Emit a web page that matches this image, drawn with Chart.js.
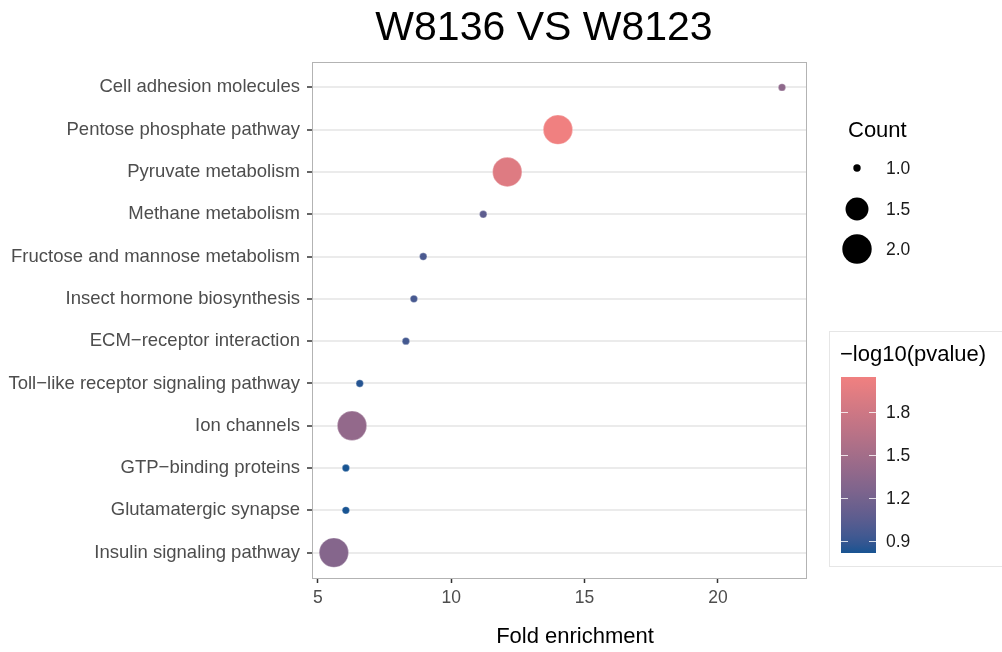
<!DOCTYPE html>
<html>
<head>
<meta charset="utf-8">
<script src="https://cdn.jsdelivr.net/npm/chart.js@4.4.1/dist/chart.umd.min.js"></script>
<style>
  body { margin: 0; background: #fff; }
</style>
</head>
<body>
<canvas id="canvas" width="1002" height="652"></canvas>
<script>
// pathways, top to bottom as shown
const pathways = [
  "Cell adhesion molecules",
  "Pentose phosphate pathway",
  "Pyruvate metabolism",
  "Methane metabolism",
  "Fructose and mannose metabolism",
  "Insect hormone biosynthesis",
  "ECM\u2212receptor interaction",
  "Toll\u2212like receptor signaling pathway",
  "Ion channels",
  "GTP\u2212binding proteins",
  "Glutamatergic synapse",
  "Insulin signaling pathway"
];
const foldEnrichment = [22.4, 14.0, 12.1, 11.2, 8.95, 8.6, 8.3, 6.57, 6.28, 6.05, 6.05, 5.6];
const counts = [1, 2, 2, 1, 1, 1, 1, 1, 2, 1, 1, 2];
const negLog10P = [1.36, 2.04, 1.91, 1.07, 0.98, 0.96, 0.95, 0.85, 1.39, 0.82, 0.82, 1.30];

const xTicks = [5, 10, 15, 20];
const countBreaks = [1.0, 1.5, 2.0];
const colorTicks = [0.9, 1.2, 1.5, 1.8];

const FONT = "'Liberation Sans', Arial, sans-serif";
const lowColor = [24, 84, 146];
const highColor = [240, 128, 128];
const pMin = Math.min(...negLog10P);
const pMax = Math.max(...negLog10P);
const cMin = Math.min(...counts);
const cMax = Math.max(...counts);
const rMin = 3.7, rMax = 14.7;

// gradient is mixed in CIE Lab, like ggplot does
function toLab(rgb) {
  const lin = rgb.map(v => { v /= 255; return v <= 0.04045 ? v / 12.92 : Math.pow((v + 0.055) / 1.055, 2.4); });
  let x = (lin[0] * 0.4124 + lin[1] * 0.3576 + lin[2] * 0.1805) / 0.95047;
  let y = (lin[0] * 0.2126 + lin[1] * 0.7152 + lin[2] * 0.0722);
  let z = (lin[0] * 0.0193 + lin[1] * 0.1192 + lin[2] * 0.9505) / 1.08883;
  const f = t => t > 0.008856 ? Math.cbrt(t) : 7.787 * t + 16 / 116;
  x = f(x); y = f(y); z = f(z);
  return [116 * y - 16, 500 * (x - y), 200 * (y - z)];
}
function fromLab(lab) {
  let y = (lab[0] + 16) / 116, x = lab[1] / 500 + y, z = y - lab[2] / 200;
  const g = t => t * t * t > 0.008856 ? t * t * t : (t - 16 / 116) / 7.787;
  x = g(x) * 0.95047; y = g(y); z = g(z) * 1.08883;
  const lin = [
    x * 3.2406 + y * -1.5372 + z * -0.4986,
    x * -0.9689 + y * 1.8758 + z * 0.0415,
    x * 0.0557 + y * -0.2040 + z * 1.0570
  ];
  return lin.map(v => {
    v = v <= 0.0031308 ? 12.92 * v : 1.055 * Math.pow(v, 1 / 2.4) - 0.055;
    return Math.max(0, Math.min(255, Math.round(v * 255)));
  });
}
const lowLab = toLab(lowColor), highLab = toLab(highColor);

function colorFor(v) {
  const t = (v - pMin) / (pMax - pMin);
  const c = fromLab(lowLab.map((l, i) => l + (highLab[i] - l) * t));
  return "rgb(" + c.join(",") + ")";
}
function radiusFor(c) {
  return rMin + (rMax - rMin) * Math.sqrt((c - cMin) / (cMax - cMin));
}

const n = pathways.length;
const points = pathways.map((p, i) => ({ x: foldEnrichment[i], y: n - i }));

const extras = {
  id: "extras",
  beforeDatasetsDraw(chart) {
    const ctx = chart.ctx;
    const a = chart.chartArea;
    ctx.save();
    ctx.strokeStyle = "#b3b3b3";
    ctx.lineWidth = 1;
    ctx.strokeRect(a.left + 0.5, a.top + 0.5, a.right - a.left, a.bottom - a.top);
    ctx.restore();
  },
  afterDraw(chart) {
    const ctx = chart.ctx;
    ctx.save();
    ctx.fillStyle = "#000";
    ctx.textAlign = "center";
    ctx.textBaseline = "middle";
    ctx.font = "41px " + FONT;
    ctx.fillText("W8136 VS W8123", 544, 29);
    ctx.font = "22px " + FONT;
    ctx.fillText("Fold enrichment", 575, 637);

    // size legend
    ctx.textAlign = "left";
    ctx.font = "22px " + FONT;
    ctx.fillText("Count", 848, 131);
    ctx.font = "17.5px " + FONT;
    const ys = [168, 209, 249];
    countBreaks.forEach((c, i) => {
      ctx.fillStyle = "#000";
      ctx.beginPath();
      ctx.arc(857, ys[i], radiusFor(c), 0, Math.PI * 2);
      ctx.fill();
      ctx.fillStyle = "#1a1a1a";
      ctx.fillText(c.toFixed(1), 886, ys[i] + 1);
    });

    // colour legend
    ctx.strokeStyle = "#e6e6e6";
    ctx.lineWidth = 1;
    ctx.strokeRect(829.5, 331.5, 180, 235);
    ctx.fillStyle = "#000";
    ctx.font = "22px " + FONT;
    ctx.fillText("\u2212log10(pvalue)", 840, 355);
    const bx = 841, bw = 35, top = 377, bot = 553;
    const g = ctx.createLinearGradient(0, bot, 0, top);
    for (let k = 0; k <= 20; k++) {
      g.addColorStop(k / 20, colorFor(pMin + (pMax - pMin) * k / 20));
    }
    ctx.fillStyle = g;
    ctx.fillRect(bx, top, bw, bot - top);
    ctx.font = "17.5px " + FONT;
    colorTicks.forEach(v => {
      const y = Math.round(bot - (v - pMin) / (pMax - pMin) * (bot - top)) + 0.5;
      ctx.strokeStyle = "rgba(255,255,255,0.8)";
      ctx.beginPath();
      ctx.moveTo(bx, y); ctx.lineTo(bx + 7, y);
      ctx.moveTo(bx + bw - 7, y); ctx.lineTo(bx + bw, y);
      ctx.stroke();
      ctx.fillStyle = "#1a1a1a";
      ctx.fillText(v.toFixed(1), 886, y + 1);
    });
    ctx.restore();
  }
};

const ctx = document.getElementById("canvas").getContext("2d");
const myChart = new Chart(ctx, {
  type: "scatter",
  data: {
    datasets: [{
      data: points,
      pointRadius: counts.map(radiusFor),
      pointHoverRadius: counts.map(radiusFor),
      backgroundColor: negLog10P.map(colorFor),
      borderColor: "rgba(255,255,255,0.6)",
      borderWidth: 0.5,
      clip: false
    }]
  },
  options: {
    responsive: false,
    animation: false,
    layout: { padding: { top: 62, right: 196, left: 0, bottom: 0 } },
    plugins: { legend: { display: false }, tooltip: { enabled: false } },
    scales: {
      x: {
        type: "linear",
        min: 4.78,
        max: 23.3,
        afterBuildTicks: s => { s.ticks = xTicks.map(v => ({ value: v })); },
        afterFit: s => { s.height = 74; },
        grid: { drawOnChartArea: false, drawTicks: true, tickLength: 5, tickColor: "#333", tickWidth: 1.5 },
        border: { display: false },
        ticks: { color: "#4d4d4d", font: { size: 17.5, family: FONT }, padding: 5, maxRotation: 0 }
      },
      y: {
        type: "linear",
        min: 0.4,
        max: n + 0.6,
        afterBuildTicks: s => { s.ticks = pathways.map((p, i) => ({ value: n - i })); },
        afterFit: s => { s.width = 312; },
        grid: { color: "#ebebeb", lineWidth: 2, tickLength: 5, tickColor: "#333", tickWidth: 1.5 },
        border: { display: false },
        ticks: {
          color: "#4d4d4d",
          font: { size: 18.5, family: FONT },
          padding: 7,
          callback: v => pathways[n - v]
        }
      }
    }
  },
  plugins: [extras]
});
</script>
</body>
</html>
